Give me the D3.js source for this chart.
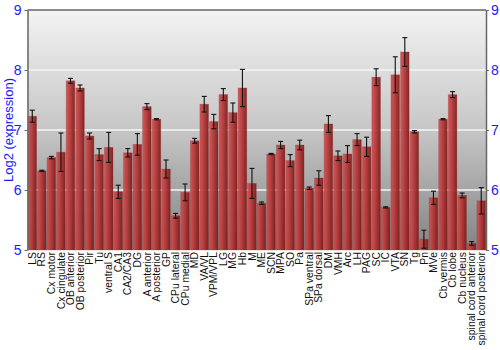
<!DOCTYPE html>
<html><head><meta charset="utf-8">
<script src="https://cdn.jsdelivr.net/npm/d3@7"></script>
<style>body{margin:0;background:#fff}svg{display:block}text{font-family:"Liberation Sans",Arial,sans-serif}</style>
</head><body>
<svg id="c" width="500" height="350"></svg>
<script>
const categories = ["LS","RS","Cx motor","Cx cingulate","OB anterior","OB posterior","Pir","Tu","ventral S","CA1","CA2/CA3","DG","A anterior","A posterior","GP","CPu lateral","CPu medial","MD","VA/VL","VPM/VPL","LG","MG","Hb","M","ME","SCN","MPA","SO","Pa","SPa ventral","SPa dorsal","DM","VMH","Arc","LH","PAG","SC","IC","VTA","SN","Tg","Pn","MVe","Cb vermis","Cb lobe","Cb nucleus","spinal cord anterior","spinal cord posterior"];
const values = [7.23,6.32,6.54,6.63,7.82,7.70,6.90,6.59,6.71,5.97,6.62,6.76,7.39,7.18,6.35,5.57,5.96,6.82,7.43,7.14,7.59,7.29,7.70,6.11,5.78,6.60,6.75,6.49,6.75,6.03,6.20,7.10,6.57,6.60,6.84,6.72,7.88,5.71,7.92,8.30,6.97,5.18,5.87,7.18,7.59,5.91,5.11,5.82];
const errors = [0.10,0.01,0.02,0.32,0.04,0.05,0.05,0.10,0.25,0.11,0.07,0.18,0.05,0.01,0.15,0.04,0.14,0.04,0.13,0.12,0.10,0.16,0.31,0.25,0.02,0.01,0.06,0.10,0.08,0.02,0.12,0.14,0.08,0.14,0.10,0.16,0.14,0.01,0.30,0.24,0.02,0.15,0.11,0.01,0.05,0.04,0.03,0.22];
const yTicks = [5,6,7,8,9];

const svg = d3.select("#c");
const L = 27.5, R = 486, T = 10, B = 250;
const x = d3.scaleBand().domain(categories).range([L, R]).paddingInner(0.1).paddingOuter(0.05);
const y = d3.scaleLinear().domain([5, 9]).range([B, T]);

const defs = svg.append("defs");
const bg = defs.append("linearGradient").attr("id","bg").attr("x1",0).attr("y1",0).attr("x2",0).attr("y2",1);
bg.append("stop").attr("offset","0%").attr("stop-color","#f3f3f3");
bg.append("stop").attr("offset","50%").attr("stop-color","#c6c6c6");
bg.append("stop").attr("offset","100%").attr("stop-color","#838383");
const bar = defs.append("linearGradient").attr("id","bar").attr("x1",0).attr("y1",0).attr("x2",1).attr("y2",0);
bar.append("stop").attr("offset","0%").attr("stop-color","#d05050");
bar.append("stop").attr("offset","45%").attr("stop-color","#b53535");
bar.append("stop").attr("offset","100%").attr("stop-color","#7a1818");

svg.append("rect").attr("x",L).attr("y",T).attr("width",R-L).attr("height",B-T).attr("fill","url(#bg)");

// gridlines
svg.append("g").selectAll("line").data(yTicks.filter(d=>d>5&&d<9)).join("line")
  .attr("x1",L).attr("x2",R).attr("y1",d=>y(d)).attr("y2",d=>y(d))
  .attr("stroke","#f4f4f4").attr("stroke-width",1.5);

// bars
svg.append("g").selectAll("rect").data(categories).join("rect")
  .attr("x",d=>x(d)).attr("width",x.bandwidth())
  .attr("y",(d,i)=>y(values[i])).attr("height",(d,i)=>B-y(values[i]))
  .attr("fill","url(#bar)").attr("fill-opacity",0.92)
  .attr("stroke","#9a2a2a").attr("stroke-opacity",0.35).attr("stroke-width",0.8);

// error bars
const eg = svg.append("g").attr("stroke","#111").attr("stroke-width",1.1);
categories.forEach((c,i)=>{
  const cx = x(c)+x.bandwidth()/2;
  const y1 = y(values[i]+errors[i]), y2 = y(values[i]-errors[i]);
  eg.append("line").attr("x1",cx).attr("x2",cx).attr("y1",y1).attr("y2",y2);
  eg.append("line").attr("x1",cx-2.5).attr("x2",cx+2.5).attr("y1",y1).attr("y2",y1);
  eg.append("line").attr("x1",cx-2.5).attr("x2",cx+2.5).attr("y1",y2).attr("y2",y2);
});

// frame
svg.append("line").attr("x1",L).attr("x2",R).attr("y1",T).attr("y2",T).attr("stroke","#666").attr("stroke-width",1.5);

const styleAxis = g => {
  g.select(".domain").attr("stroke","#666").attr("stroke-width",1.5);
  g.selectAll(".tick line").attr("stroke","#666");
  g.selectAll(".tick text").attr("fill","#1a1aff").attr("font-size",14).attr("font-family","Liberation Sans, Arial, sans-serif");
};
svg.append("g").attr("transform",`translate(${L},0)`)
  .call(d3.axisLeft(y).tickValues(yTicks).tickSize(3).tickSizeOuter(0).tickPadding(3).tickFormat(d3.format("d")))
  .call(styleAxis);
svg.append("g").attr("transform",`translate(${R},0)`)
  .call(d3.axisRight(y).tickValues(yTicks).tickSize(3).tickSizeOuter(0).tickPadding(2).tickFormat(d3.format("d")))
  .call(styleAxis);

// category labels
svg.append("g").selectAll("text").data(categories).join("text")
  .attr("transform",d=>`translate(${x(d)+x.bandwidth()/2+3.6},252) rotate(-90)`)
  .attr("text-anchor","end").attr("font-size",10.4).attr("fill","#111").text(d=>d);

// y title
svg.append("text").attr("transform","translate(13,130) rotate(-90)")
  .attr("text-anchor","middle").attr("font-size",13).attr("fill","#1a1aff").text("Log2 (expression)");
</script>
</body></html>
